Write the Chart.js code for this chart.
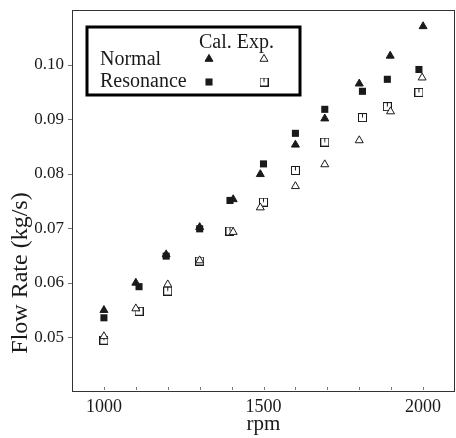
<!DOCTYPE html>
<html>
<head>
<meta charset="utf-8">
<script src="https://cdn.jsdelivr.net/npm/chart.js@4.4.1/dist/chart.umd.min.js"></script>
<style>
  html, body { margin: 0; padding: 0; background: #fff; }
  canvas { display: block; }
</style>
</head>
<body>
<canvas id="chart" width="456" height="438"></canvas>
<script>
// values: rpm and flow rate (kg/s)
const normalCalRpm = [1000, 1100, 1195, 1300, 1405, 1490, 1600, 1692, 1800, 1897, 2000];
const normalCal    = [0.0550, 0.0600, 0.0652, 0.0702, 0.0753, 0.0799, 0.0853, 0.0901, 0.0965, 0.1016, 0.1070];

const resCalRpm = [1000, 1110, 1195, 1300, 1395, 1500, 1600, 1692, 1810, 1888, 1987];
const resCal    = [0.0536, 0.0593, 0.0649, 0.0699, 0.0751, 0.0818, 0.0874, 0.0918, 0.0951, 0.0973, 0.0991];

const normalExpRpm = [1000, 1100, 1200, 1300, 1405, 1490, 1600, 1692, 1800, 1898, 1997];
const normalExp    = [0.0502, 0.0553, 0.0597, 0.0641, 0.0693, 0.0738, 0.0777, 0.0817, 0.0861, 0.0914, 0.0976];

const resExpRpm = [1000, 1110, 1200, 1300, 1395, 1500, 1600, 1692, 1810, 1888, 1987];
const resExp    = [0.0495, 0.0548, 0.0585, 0.0640, 0.0695, 0.0748, 0.0806, 0.0858, 0.0903, 0.0923, 0.0949];

const xTicks = [1000, 1500, 2000];
const xMinorTicks = [1000, 1100, 1200, 1300, 1400, 1500, 1600, 1700, 1800, 1900, 2000];
const yTicks = [0.05, 0.06, 0.07, 0.08, 0.09, 0.10];

const serif = "'Liberation Serif', 'DejaVu Serif', serif";
const ink = '#1a1a1a';

// hollow square with the little mark inside, like the scanned symbol
function hollowSquare() {
    const c = document.createElement('canvas');
    c.width = 9; c.height = 9;
    const g = c.getContext('2d');
    g.fillStyle = '#fff';
    g.fillRect(0, 0, 9, 9);
    g.strokeStyle = ink;
    g.lineWidth = 1;
    g.strokeRect(0.5, 0.5, 8, 8);
    g.beginPath();
    g.moveTo(4.5, 1);
    g.lineTo(4.5, 4.5);
    g.stroke();
    return c;
}
const squareImg = hollowSquare();

const pts = (xs, ys) => xs.map((x, i) => ({ x: x, y: ys[i] }));

const datasets = [
    { label: 'Normal Cal.', data: pts(normalCalRpm, normalCal),
      pointStyle: 'triangle', pointRadius: 4.6, backgroundColor: ink, borderColor: ink, borderWidth: 1 },
    { label: 'Resonance Cal.', data: pts(resCalRpm, resCal),
      pointStyle: 'rect', pointRadius: 5, backgroundColor: ink, borderColor: ink, borderWidth: 0 },
    { label: 'Normal Exp.', data: pts(normalExpRpm, normalExp),
      pointStyle: 'triangle', pointRadius: 4.6, backgroundColor: '#fff', borderColor: ink, borderWidth: 1 },
    { label: 'Resonance Exp.', data: pts(resExpRpm, resExp),
      pointStyle: squareImg, pointRadius: 5, backgroundColor: '#fff', borderColor: ink, borderWidth: 1 }
];

// no extra room for label overhang, the plot box is fixed by hand
const noOverhang = s => {
    s.paddingTop = 0; s.paddingBottom = 0;
    s.paddingLeft = 0; s.paddingRight = 0;
};

const framePlugin = {
    id: 'frame',
    afterDraw(chart) {
        const { ctx, chartArea: a, scales: { x, y } } = chart;
        ctx.save();

        // box round the plot
        ctx.strokeStyle = '#333';
        ctx.lineWidth = 1;
        ctx.strokeRect(a.left + 0.5, a.top + 0.5, a.right - a.left - 1, a.bottom - a.top - 1);

        // small tick marks
        ctx.strokeStyle = '#777';
        ctx.beginPath();
        xMinorTicks.forEach(v => {
            const px = Math.round(x.getPixelForValue(v)) + 0.5;
            ctx.moveTo(px, a.bottom - 5);
            ctx.lineTo(px, a.bottom - 2);
        });
        yTicks.forEach(v => {
            const py = Math.round(y.getPixelForValue(v)) + 0.5;
            ctx.moveTo(a.left - 4, py);
            ctx.lineTo(a.left, py);
        });
        ctx.stroke();

        // y title, sits lower than the middle in the original
        ctx.fillStyle = ink;
        ctx.font = '24px ' + serif;
        ctx.textAlign = 'center';
        ctx.textBaseline = 'middle';
        ctx.translate(21, 273);
        ctx.rotate(-Math.PI / 2);
        ctx.fillText('Flow Rate (kg/s)', 0, 0);
        ctx.setTransform(1, 0, 0, 1, 0, 0);

        // legend table
        const lx = a.left + 15, ly = a.top + 17;
        ctx.fillStyle = '#fff';
        ctx.fillRect(lx, ly, 213, 68);
        ctx.strokeStyle = '#000';
        ctx.lineWidth = 3;
        ctx.strokeRect(lx, ly, 213, 68);

        ctx.fillStyle = ink;
        ctx.font = '20px ' + serif;
        ctx.textAlign = 'left';
        ctx.textBaseline = 'middle';
        ctx.fillText('Cal. Exp.', lx + 112, ly + 16);
        ctx.fillText('Normal', lx + 13, ly + 33);
        ctx.fillText('Resonance', lx + 13, ly + 55);

        const cells = [[0, 122, 32], [1, 122, 55], [2, 177, 32], [3, 177, 55]];
        cells.forEach(([i, dx, dy]) => {
            const ds = chart.data.datasets[i];
            ctx.fillStyle = ds.backgroundColor;
            ctx.strokeStyle = ds.borderColor;
            ctx.lineWidth = ds.borderWidth;
            Chart.helpers.drawPoint(ctx, {
                pointStyle: ds.pointStyle, radius: ds.pointRadius,
                rotation: 0, borderWidth: ds.borderWidth
            }, lx + dx, ly + dy);
        });

        ctx.restore();
    }
};

new Chart(document.getElementById('chart'), {
    type: 'scatter',
    data: { datasets: datasets },
    options: {
        responsive: false,
        animation: false,
        devicePixelRatio: 1,
        layout: { autoPadding: false, padding: { top: 10, right: 1, left: 0, bottom: 0 } },
        plugins: { legend: { display: false }, tooltip: { enabled: false } },
        scales: {
            x: {
                type: 'linear', min: 900, max: 2100,
                afterBuildTicks: s => { s.ticks = xTicks.map(v => ({ value: v })); },
                afterFit: s => { s.height = 46; noOverhang(s); },
                grid: { display: false, drawTicks: false },
                border: { display: false },
                ticks: { color: ink, font: { family: serif, size: 18 }, padding: 4, maxRotation: 0,
                         autoSkip: false, callback: v => String(v) },
                title: { display: true, text: 'rpm', color: ink,
                         font: { family: serif, size: 21 }, padding: { top: 0, bottom: 1 } }
            },
            y: {
                type: 'linear', min: 0.04, max: 0.11,
                afterBuildTicks: s => { s.ticks = yTicks.map(v => ({ value: v })); },
                afterFit: s => { s.width = 72; noOverhang(s); },
                grid: { display: false, drawTicks: false },
                border: { display: false },
                ticks: { color: ink, font: { family: serif, size: 17 }, padding: 8,
                         autoSkip: false, callback: v => v.toFixed(2) }
            }
        }
    },
    plugins: [framePlugin]
});
</script>
</body>
</html>
